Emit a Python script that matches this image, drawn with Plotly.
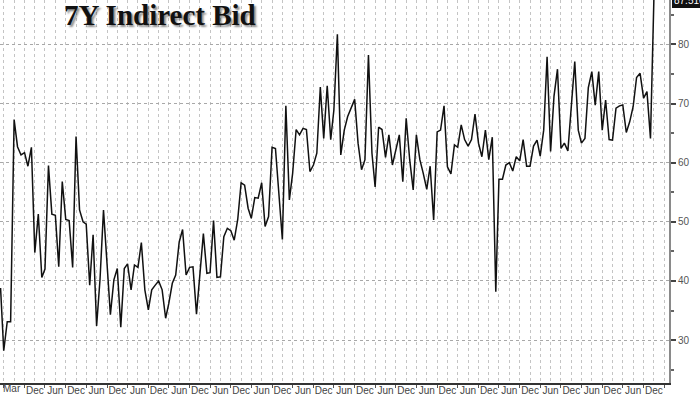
import pandas as pd
import plotly.graph_objects as go

# 7Y auction indirect bid (%), monthly auctions Feb 2009 .. Dec 2024
start_month = "2009-02-01"
indirect_bid = [
    38.8, 28.2, 33.1, 33.1, 67.3, 62.7, 61.3, 61.7, 59.4, 62.6,
    44.8, 51.3, 40.6, 42.0, 59.5, 51.3, 51.1, 42.4, 56.8, 50.4,
    50.2, 42.3, 64.4, 52.0, 50.0, 49.6, 39.3, 47.8, 32.4, 40.2,
    52.0, 43.3, 34.3, 40.2, 42.1, 32.2, 42.1, 42.9, 38.5, 42.7,
    42.3, 46.5, 38.5, 35.1, 38.5, 39.3, 40.0, 38.5, 33.7, 36.2,
    39.6, 41.0, 46.6, 48.7, 41.0, 42.3, 42.4, 34.4, 41.3, 48.0,
    41.3, 41.4, 50.2, 40.6, 40.7, 47.5, 48.9, 48.5, 46.9, 50.4,
    56.6, 56.2, 52.3, 50.6, 54.1, 54.0, 56.6, 49.2, 50.9, 62.6,
    62.4, 55.0, 47.0, 69.6, 53.7, 58.2, 65.6, 64.7, 65.8, 65.6,
    58.5, 59.6, 61.6, 72.8, 64.1, 73.0, 63.9, 68.9, 81.7, 61.3,
    65.5, 67.8, 69.2, 70.7, 63.3, 58.8, 60.5, 78.2, 61.6, 55.9,
    66.0, 65.6, 60.9, 64.7, 59.6, 62.1, 64.7, 56.8, 67.5, 60.5,
    55.4, 64.7, 60.5, 58.2, 55.5, 59.4, 50.3, 65.2, 65.5, 69.6,
    59.3, 58.1, 63.0, 62.6, 66.4, 63.9, 62.8, 63.9, 68.2, 63.3,
    61.0, 65.5, 60.5, 64.3, 38.2, 57.2, 57.2, 59.6, 60.0, 58.6,
    61.0, 60.3, 63.9, 59.4, 59.4, 62.8, 63.8, 61.1, 65.5, 77.9,
    61.9, 71.2, 75.8, 62.4, 63.3, 62.0, 68.9, 77.1, 65.5, 63.3,
    64.1, 72.7, 75.4, 69.7, 75.4, 65.5, 70.6, 63.9, 63.8, 69.2,
    69.6, 69.75, 65.1, 66.9, 69.5, 74.4, 75.1, 70.9, 72.0, 64.1,
    87.5,
]
last_label = "87.516"
title_text = "7Y Indirect Bid"
first_label = "Mar"
y_ticks = [30, 40, 50, 60, 70, 80]

dates = pd.date_range(start_month, periods=len(indirect_bid), freq="MS")

# label ticks every June / December; the first June (2009) carries no label
label_dates = pd.date_range("2009-06-01", "2024-12-01", freq="6MS")
label_text = ["" if d < pd.Timestamp("2009-12-01") else d.strftime("%b") for d in label_dates]

fig = go.Figure()
fig.add_trace(go.Scatter(
    x=dates, y=indirect_bid, mode="lines",
    line=dict(color="#111111", width=1.5),
    hoverinfo="skip", showlegend=False,
))

fig.update_layout(
    width=700, height=394,
    margin=dict(l=0, r=31, t=0, b=11),
    paper_bgcolor="white", plot_bgcolor="white",
    hovermode=False,
    xaxis=dict(
        type="date", automargin=False,
        range=["2009-01-27", "2025-04-14"],
        tickvals=list(label_dates), ticktext=label_text,
        ticks="", ticklabelstandoff=-3,
        showgrid=True, gridcolor="#c4c4c4", griddash="dot", gridwidth=1,
        minor=dict(tick0="2009-03-01", dtick="M6", ticks="outside", ticklen=3,
                   tickcolor="#555", showgrid=True, gridcolor="#c4c4c4",
                   griddash="dot", gridwidth=1),
        showline=True, linecolor="#333", linewidth=1.5,
        tickfont=dict(family="Liberation Sans", size=10, color="#444"),
        zeroline=False,
    ),
    yaxis=dict(
        side="right", automargin=False,
        range=[22.75, 87.5],
        tickvals=y_ticks,
        ticks="outside", ticklen=5, tickwidth=2, tickcolor="#444",
        minor=dict(dtick=5, ticks="outside", ticklen=3, tickcolor="#666", showgrid=False),
        showgrid=True, gridcolor="#a8a8a8", griddash="dot", gridwidth=1,
        showline=True, linecolor="#8a8a8a", linewidth=2,
        tickfont=dict(family="Liberation Sans", size=10, color="#555"),
        zeroline=False,
    ),
)

# first label at the left edge
fig.add_annotation(text=first_label, xref="paper", yref="paper", x=0, y=0,
                   xanchor="left", yanchor="top", xshift=1, yshift=2, showarrow=False,
                   font=dict(family="Liberation Sans", size=10, color="#444"))

# last value tag
fig.add_annotation(text=last_label, xref="paper", yref="y", x=1, y=indirect_bid[-1],
                   xanchor="left", yanchor="middle", xshift=3, showarrow=False,
                   bgcolor="#111", bordercolor="#111", borderpad=1,
                   font=dict(family="Liberation Sans", size=10, color="white"))

# title with soft shadow
fig.add_annotation(text="<b>%s</b>" % title_text, xref="paper", yref="paper",
                   x=160 / 669, y=1 - 15 / 383, xanchor="center", yanchor="middle",
                   showarrow=False,
                   font=dict(family="Liberation Serif", size=29, color="#111",
                             shadow="2px 2px 2px rgba(0,0,0,0.45)"))

fig.write_html("out.html", config={"displayModeBar": False},
               post_script="document.body.style.margin='0';document.body.style.padding='0';")
